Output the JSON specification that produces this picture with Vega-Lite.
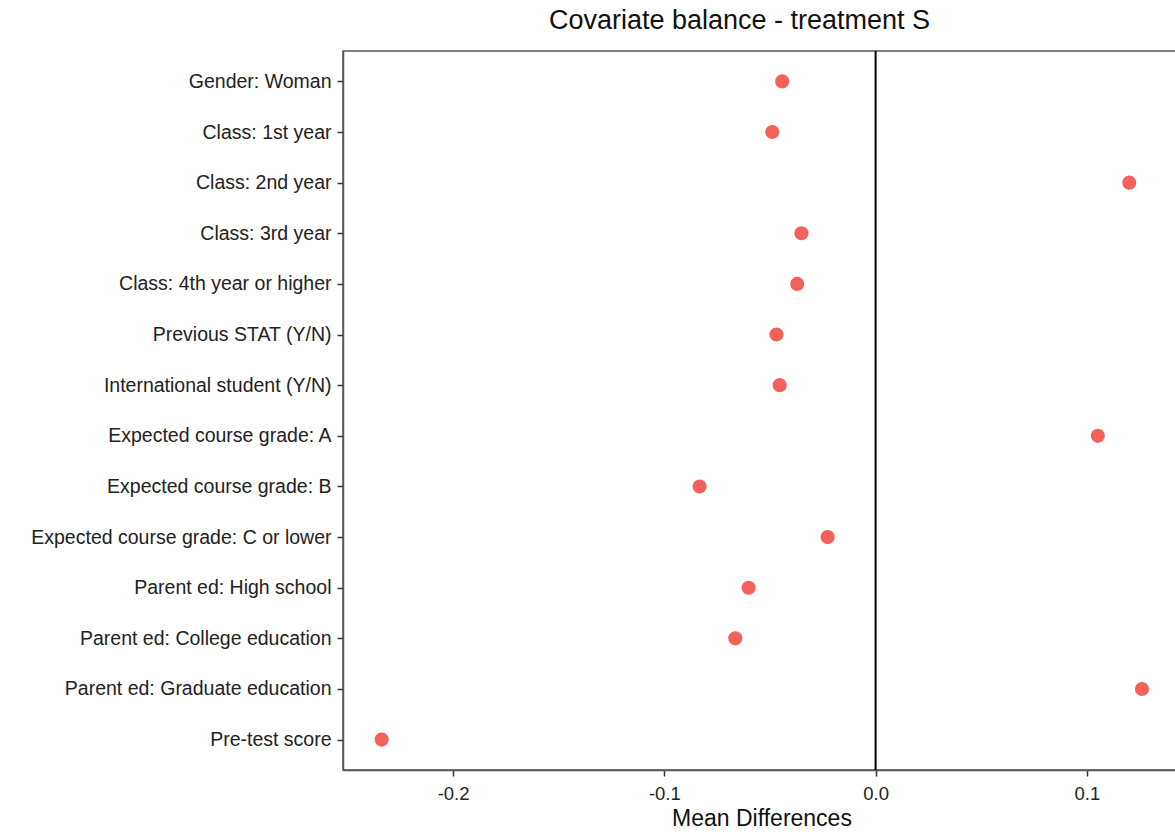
{
  "$schema": "https://vega.github.io/schema/vega-lite/v6.json",
  "autosize": "none",
  "width": 837,
  "height": 719,
  "padding": {"left": 343, "top": 51, "right": 0, "bottom": 64},
  "background": "white",
  "config": {
    "font": "Liberation Sans",
    "view": {"stroke": "#555555", "strokeWidth": 1.5},
    "axis": {
      "grid": false,
      "domainColor": "#555555",
      "domainWidth": 1.5,
      "tickColor": "#333333",
      "tickWidth": 1.5,
      "tickSize": 6,
      "labelColor": "#222222",
      "labelFont": "Liberation Sans",
      "titleFont": "Liberation Sans",
      "titleFontWeight": "normal",
      "titleColor": "#111111"
    }
  },
  "title": {
    "text": "Covariate balance - treatment S",
    "font": "Liberation Sans",
    "fontSize": 27,
    "fontWeight": "normal",
    "color": "#111111",
    "anchor": "middle",
    "dx": -22,
    "offset": 15
  },
  "data": {
    "values": [
      {"covariate": "Gender: Woman", "diff": -0.0442},
      {"covariate": "Class: 1st year", "diff": -0.0489},
      {"covariate": "Class: 2nd year", "diff": 0.1201},
      {"covariate": "Class: 3rd year", "diff": -0.0351},
      {"covariate": "Class: 4th year or higher", "diff": -0.0371},
      {"covariate": "Previous STAT (Y/N)", "diff": -0.0469},
      {"covariate": "International student (Y/N)", "diff": -0.0454},
      {"covariate": "Expected course grade: A", "diff": 0.1052},
      {"covariate": "Expected course grade: B", "diff": -0.0833},
      {"covariate": "Expected course grade: C or lower", "diff": -0.0227},
      {"covariate": "Parent ed: High school", "diff": -0.0601},
      {"covariate": "Parent ed: College education", "diff": -0.0664},
      {"covariate": "Parent ed: Graduate education", "diff": 0.1261},
      {"covariate": "Pre-test score", "diff": -0.2338}
    ]
  },
  "layer": [
    {
      "mark": {"type": "rule", "color": "black", "strokeWidth": 2},
      "data": {"values": [{"zero": 0}]},
      "encoding": {
        "x": {"field": "zero", "type": "quantitative"}
      }
    },
    {
      "mark": {"type": "point", "filled": true, "color": "#F2625B", "opacity": 1, "size": 200},
      "encoding": {
        "x": {
          "field": "diff",
          "type": "quantitative",
          "scale": {"domain": [-0.2521, 0.1441], "nice": false, "zero": false},
          "axis": {
            "title": "Mean Differences",
            "titleFontSize": 23,
            "titlePadding": 5,
            "values": [-0.2, -0.1, 0.0, 0.1],
            "format": ".1f",
            "labelExpr": "replace(datum.label, '\u2212', '-')",
            "labelFontSize": 18.5,
            "labelPadding": 8
          }
        },
        "y": {
          "field": "covariate",
          "type": "nominal",
          "sort": null,
          "scale": {"type": "point", "padding": 0.6},
          "axis": {"title": null, "labelFontSize": 19.5, "labelPadding": 6, "labelLimit": 400}
        }
      }
    }
  ]
}
